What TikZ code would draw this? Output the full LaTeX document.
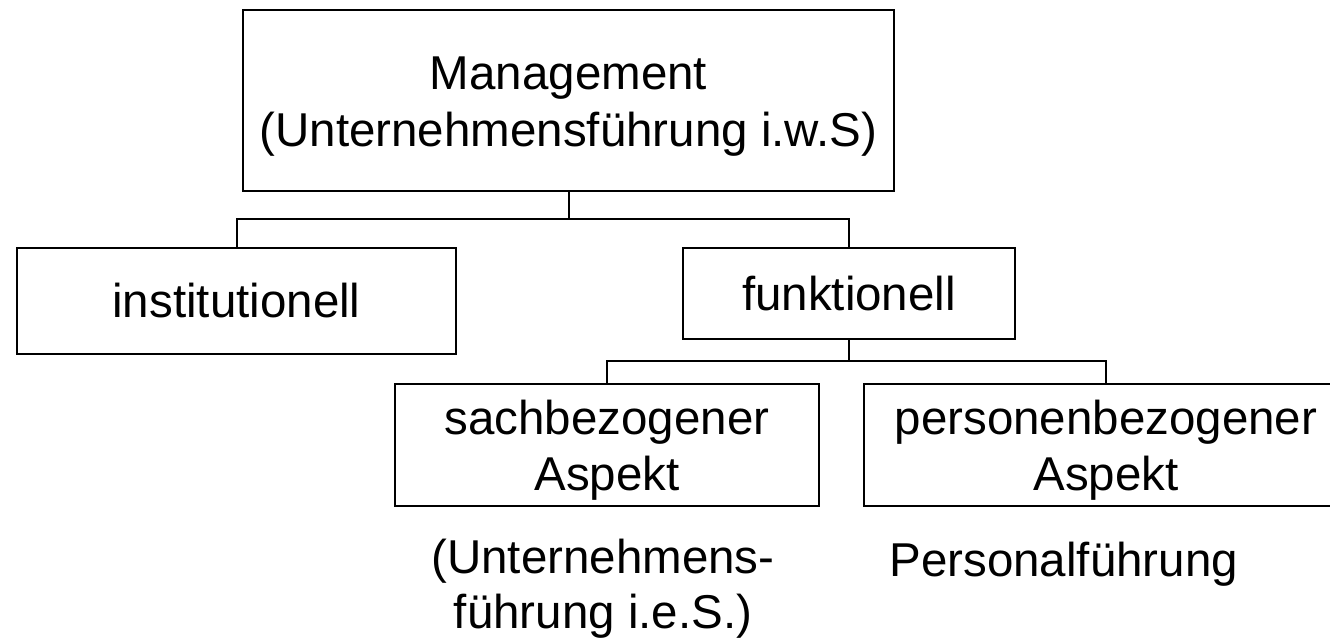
\documentclass[tikz,border=0pt]{standalone}
\usepackage{fontspec}
\setmainfont{Liberation Sans}
\usepackage{tikz}

\tikzset{
    kasten/.style={draw, line width=1pt, inner sep=0pt, outer sep=0pt, align=center,
        font=\fontsize{23.75}{28.25}\selectfont},
    zweizeilig/.style={text height=51pt, text depth=5pt},
    notiz/.style={inner sep=0pt, align=center, font=\fontsize{23.75}{27.5}\selectfont},
    linie/.style={line width=1pt}
}

\begin{document}
\begin{tikzpicture}[x=0.5pt, y=-0.5pt]
                        \useasboundingbox (0,0) rectangle (1330,640);

                        \coordinate (J1) at (568.5,219);
                        \coordinate (J2) at (849,361);

                        \node[kasten, zweizeilig, minimum width=325.5pt, minimum height=90.5pt] (M) at (568.5,100.5) {Management\\(Unternehmensführung i.w.S)};
                        \node[kasten, minimum width=219.5pt, minimum height=53pt] (I) at (236.5,301) {institutionell};
                        \node[kasten, minimum width=166pt, minimum height=45.5pt] (F) at (849,293.5) {funktionell};
                        \node[kasten, zweizeilig, minimum width=212pt, minimum height=61pt] (S) at (607,445) {sachbezogener\\Aspekt};
                        \node[kasten, zweizeilig, minimum width=242pt, minimum height=61pt] (P) at (1106,445) {personenbezogener\\Aspekt};

                        \node[notiz] (SN) at (603,589) {(Unternehmens-\\führung i.e.S.)};
                        \node[notiz, anchor=base west] (PN) at (889,577) {Personalführung};

                        \draw[linie] (M.south) -- (J1);
                        \draw[linie] (I.north) |- (J1) -| (F.north);
                        \draw[linie] (F.south) -- (J2);
                        \draw[linie] (S.north) |- (J2) -| (P.north);
                    \end{tikzpicture}
\end{document}
